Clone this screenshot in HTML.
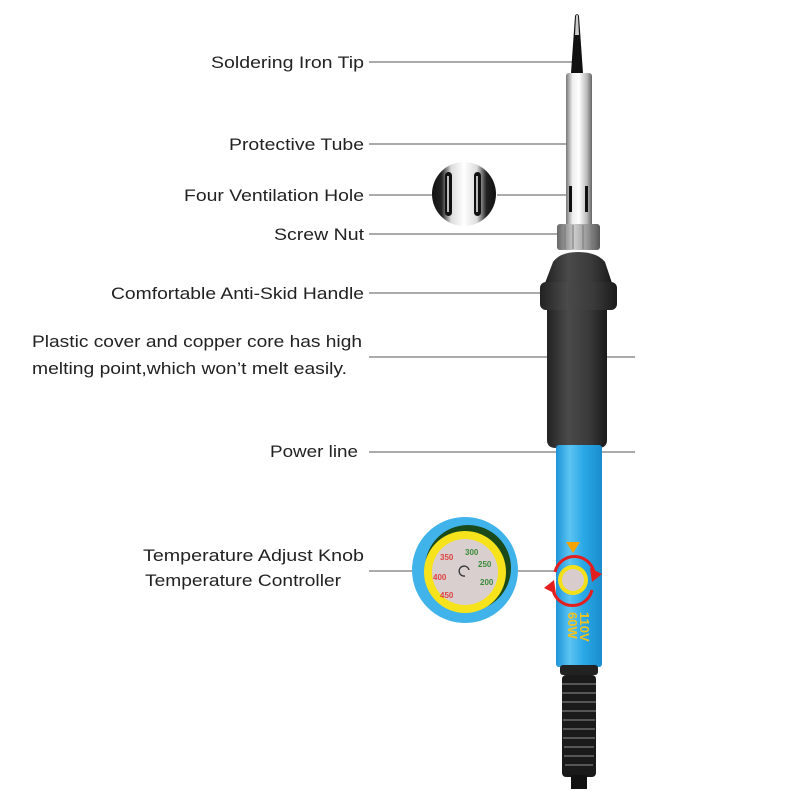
<!DOCTYPE html>
<html><head><meta charset="utf-8"><style>
html,body{margin:0;padding:0;background:#fff}
svg{display:block}
text{font-family:"Liberation Sans",Arial,sans-serif;font-size:17px;fill:#222}
</style></head><body>
<svg width="800" height="800" viewBox="0 0 800 800" xmlns="http://www.w3.org/2000/svg">
<defs>
<linearGradient id="silver" x1="0" x2="1"><stop offset="0" stop-color="#777"/><stop offset=".25" stop-color="#eee"/><stop offset=".5" stop-color="#fff"/><stop offset=".8" stop-color="#bbb"/><stop offset="1" stop-color="#666"/></linearGradient>
<linearGradient id="black" x1="0" x2="1"><stop offset="0" stop-color="#222"/><stop offset=".35" stop-color="#4a4a4a"/><stop offset=".7" stop-color="#3a3a3a"/><stop offset="1" stop-color="#1a1a1a"/></linearGradient>
<linearGradient id="blue" x1="0" x2="1"><stop offset="0" stop-color="#1c95d8"/><stop offset=".3" stop-color="#5cc4f2"/><stop offset=".6" stop-color="#2aa8e6"/><stop offset="1" stop-color="#1a8ccc"/></linearGradient>
<linearGradient id="nut" x1="0" x2="1"><stop offset="0" stop-color="#666"/><stop offset=".4" stop-color="#ccc"/><stop offset=".7" stop-color="#999"/><stop offset="1" stop-color="#555"/></linearGradient>
<linearGradient id="vent" x1="0" x2="1"><stop offset="0" stop-color="#111"/><stop offset=".15" stop-color="#222"/><stop offset=".3" stop-color="#ddd"/><stop offset=".5" stop-color="#fff"/><stop offset=".7" stop-color="#ddd"/><stop offset=".85" stop-color="#222"/><stop offset="1" stop-color="#111"/></linearGradient>
</defs>

<g stroke="#777" stroke-width="1.2">
<line x1="369" y1="62" x2="577" y2="62"/>
<line x1="369" y1="144" x2="578" y2="144"/>
<line x1="369" y1="195" x2="432" y2="195"/>
<line x1="497" y1="195" x2="569" y2="195"/>
<line x1="369" y1="234" x2="577" y2="234"/>
<line x1="369" y1="293" x2="577" y2="293"/>
<line x1="369" y1="357" x2="635" y2="357"/>
<line x1="369" y1="452" x2="635" y2="452"/>
<line x1="369" y1="571" x2="413" y2="571"/>
<line x1="518" y1="571" x2="578" y2="571"/>
</g>

<path d="M575 16 Q577 12 579 16 L583 73 L571 73 Z" fill="#111"/>
<path d="M576 16 Q577 13 578 16 L579 35 L575 35 Z" fill="#ccc"/>
<rect x="566" y="73" width="26" height="155" rx="3" fill="url(#silver)"/>
<rect x="569" y="186" width="3" height="26" fill="#111"/>
<rect x="585" y="186" width="3" height="26" fill="#111"/>
<rect x="557" y="224" width="43" height="26" rx="3" fill="url(#nut)"/>
<g stroke="#777" stroke-width="1"><line x1="565" y1="225" x2="565" y2="249"/><line x1="573" y1="225" x2="573" y2="249"/><line x1="583" y1="225" x2="583" y2="249"/><line x1="592" y1="225" x2="592" y2="249"/></g>
<path d="M553 262 Q560 252 578 252 Q597 252 605 262 L612 283 L545 283 Z" fill="url(#black)"/>
<rect x="540" y="282" width="77" height="28" rx="6" fill="url(#black)"/>
<path d="M547 310 L607 310 L607 440 Q607 448 598 448 L556 448 Q547 448 547 440 Z" fill="url(#black)"/>
<rect x="556" y="445" width="46" height="222" rx="3" fill="url(#blue)"/>
<text x="0" y="0" transform="translate(580,612) rotate(90)" style="font-size:13px;font-weight:bold;fill:#f2c21a">110V</text>
<text x="0" y="0" transform="translate(568,612) rotate(90)" style="font-size:13px;font-weight:bold;fill:#f2c21a">60W</text>
<rect x="560" y="665" width="38" height="10" rx="3" fill="#222"/>
<rect x="562" y="675" width="34" height="102" rx="4" fill="#1a1a1a"/>
<g stroke="#555" stroke-width="2">
<line x1="562" y1="684" x2="596" y2="684"/><line x1="562" y1="693" x2="596" y2="693"/><line x1="562" y1="702" x2="596" y2="702"/><line x1="562" y1="711" x2="596" y2="711"/><line x1="563" y1="720" x2="595" y2="720"/><line x1="563" y1="729" x2="595" y2="729"/><line x1="563" y1="738" x2="595" y2="738"/><line x1="564" y1="747" x2="594" y2="747"/><line x1="564" y1="756" x2="594" y2="756"/><line x1="565" y1="765" x2="593" y2="765"/>
</g>
<rect x="571" y="775" width="16" height="14" fill="#111"/>

<polygon points="566,542 580,542 573,553" fill="#f5a300"/>
<circle cx="573" cy="580" r="15" fill="#f4e01a"/>
<circle cx="573" cy="580" r="11" fill="#d8cccc"/>
<path d="M555 572 A20 20 0 0 1 594 572" fill="none" stroke="#e31e1e" stroke-width="3"/>
<polygon points="590,568 602,574 592,582" fill="#e31e1e"/>
<path d="M592 590 A20 20 0 0 1 553 590" fill="none" stroke="#e31e1e" stroke-width="3"/>
<polygon points="556,594 544,588 554,580" fill="#e31e1e"/>

<circle cx="464" cy="194" r="32" fill="url(#vent)"/>
<rect x="445" y="172" width="7" height="44" rx="3.5" fill="#111"/>
<rect x="474" y="172" width="7" height="44" rx="3.5" fill="#111"/>
<rect x="447" y="176" width="2" height="36" fill="#bbb"/>
<rect x="476" y="176" width="2" height="36" fill="#bbb"/>

<circle cx="465" cy="570" r="53" fill="#3fb3ea"/>
<circle cx="468" cy="568" r="43" fill="#1a4a1a"/>
<circle cx="465" cy="572" r="41" fill="#f6e31b"/>
<circle cx="465" cy="572" r="33" fill="#d9cfcf"/>
<text x="440" y="560" style="font-size:8px;font-weight:bold;fill:#d44">350</text>
<text x="433" y="580" style="font-size:8px;font-weight:bold;fill:#d44">400</text>
<text x="440" y="598" style="font-size:8px;font-weight:bold;fill:#d44">450</text>
<text x="465" y="555" style="font-size:8px;font-weight:bold;fill:#3a8a3a">300</text>
<text x="478" y="567" style="font-size:8px;font-weight:bold;fill:#3a8a3a">250</text>
<text x="480" y="585" style="font-size:8px;font-weight:bold;fill:#3a8a3a">200</text>
<path d="M465 576 A5 5 0 1 1 469 570" fill="none" stroke="#333" stroke-width="1.3"/>

<text x="211" y="68" textLength="153" lengthAdjust="spacingAndGlyphs">Soldering Iron Tip</text>
<text x="229" y="150" textLength="135" lengthAdjust="spacingAndGlyphs">Protective Tube</text>
<text x="184" y="201" textLength="180" lengthAdjust="spacingAndGlyphs">Four Ventilation Hole</text>
<text x="274" y="240" textLength="90" lengthAdjust="spacingAndGlyphs">Screw Nut</text>
<text x="111" y="299" textLength="253" lengthAdjust="spacingAndGlyphs">Comfortable Anti-Skid Handle</text>
<text x="270" y="457" textLength="88" lengthAdjust="spacingAndGlyphs">Power line</text>
<text x="143" y="561" textLength="221" lengthAdjust="spacingAndGlyphs">Temperature Adjust Knob</text>
<text x="145" y="586" textLength="196" lengthAdjust="spacingAndGlyphs">Temperature Controller</text>
<text x="32" y="347" textLength="330" lengthAdjust="spacingAndGlyphs">Plastic cover and copper core has high</text>
<text x="32" y="374" textLength="315" lengthAdjust="spacingAndGlyphs">melting point,which won’t melt easily.</text>
</svg>
</body></html>
